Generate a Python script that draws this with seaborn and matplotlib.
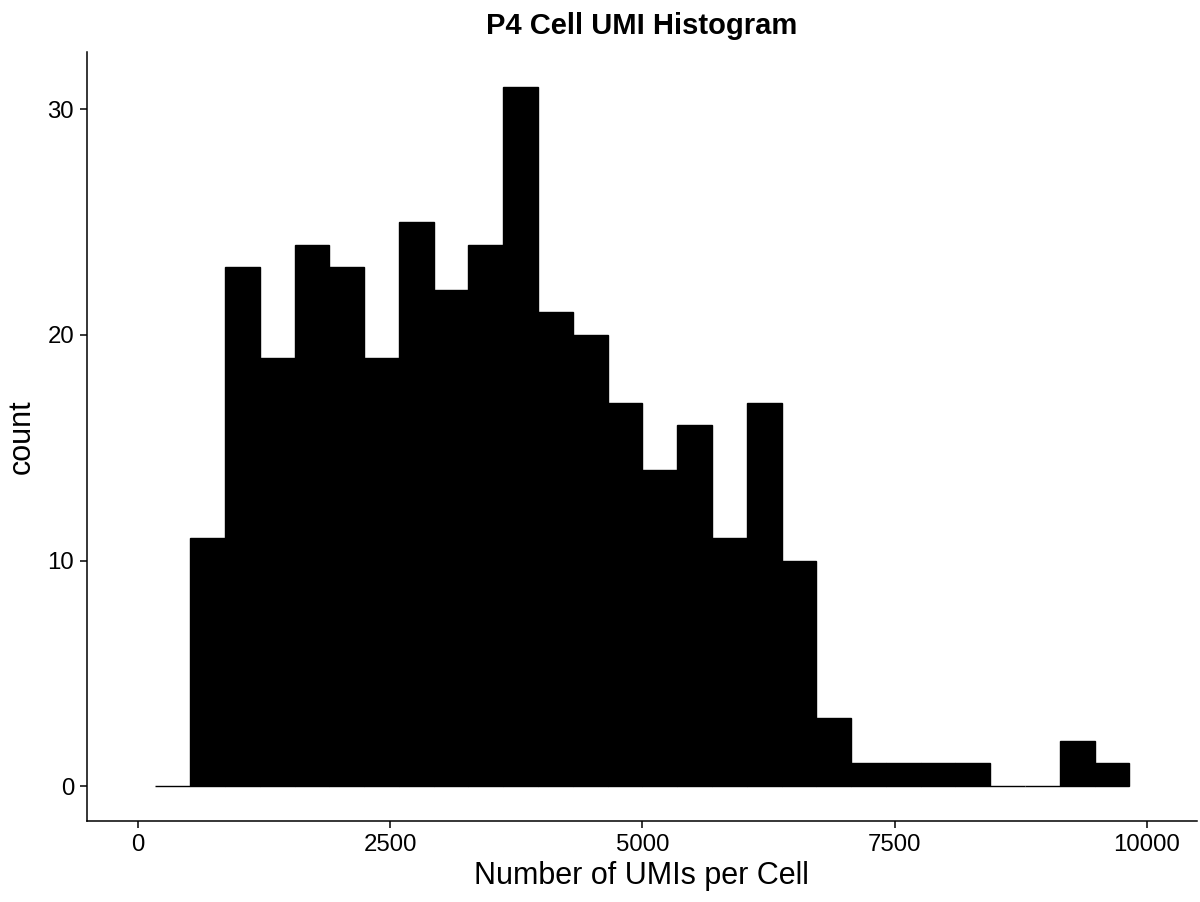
import numpy as np
import pandas as pd
import matplotlib
matplotlib.use("Agg")
import matplotlib.pyplot as plt
import seaborn as sns

# ---- data ----
bin_start = 172.41          # left edge of first bin (UMIs)
bin_width = 344.83          # bin width (UMIs)
counts = [0, 11, 23, 19, 24, 23, 19, 25, 22, 24, 31, 21, 20, 17, 14,
          16, 11, 17, 10, 3, 1, 1, 1, 1, 0, 0, 2, 1]
x_ticks = [0, 2500, 5000, 7500, 10000]
y_ticks = [0, 10, 20, 30]
title = "P4 Cell UMI Histogram"
x_label = "Number of UMIs per Cell"
y_label = "count"

edges = [float(bin_start + bin_width * i) for i in range(len(counts) + 1)]
centers = [(edges[i] + edges[i + 1]) / 2 for i in range(len(counts))]
df = pd.DataFrame({"umi": centers, "n": counts})

sns.set_theme(style="ticks")
plt.rcParams["font.family"] = ["Liberation Sans", "DejaVu Sans"]

fig = plt.figure(figsize=(12, 9.02), dpi=100)
ax = fig.add_axes([0.0723, 0.0898, 0.99725 - 0.0723, 0.9424 - 0.0898])

sns.histplot(data=df, x="umi", weights="n", bins=edges, ax=ax,
             color="black", edgecolor="black", linewidth=1.0, alpha=1.0)

ax.set_xlim(-508, 10495)
ax.set_ylim(-1.55, 32.55)
ax.set_xticks(x_ticks)
ax.set_xticklabels([str(v) for v in x_ticks])
ax.set_yticks(y_ticks)
ax.set_yticklabels([str(v) for v in y_ticks])

for s in ["top", "right"]:
    ax.spines[s].set_visible(False)
for s in ["left", "bottom"]:
    ax.spines[s].set_linewidth(1.1)
    ax.spines[s].set_color("black")

ax.tick_params(axis="both", length=5, width=1.1, color="black",
               labelsize=17.3, labelcolor="black", pad=4)

ax.set_xlabel(x_label, fontsize=22, color="black", labelpad=4)
ax.set_ylabel(y_label, fontsize=22, color="black", labelpad=8)
ax.set_title(title, fontsize=21, fontweight="bold", color="black", pad=13)

fig.savefig("out.png", dpi=100, facecolor="white")
